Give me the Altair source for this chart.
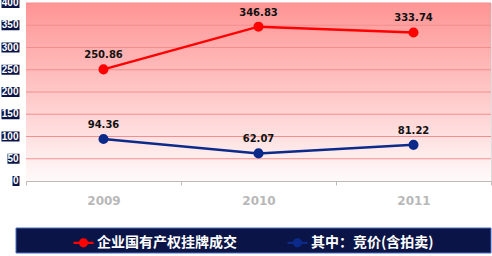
import altair as alt
import pandas as pd

years = ["2009", "2010", "2011"]
series_names = ["企业国有产权挂牌成交", "其中：竞价(含拍卖)"]
listed = [250.86, 346.83, 333.74]
auction = [94.36, 62.07, 81.22]
y_ticks = [0, 50, 100, 150, 200, 250, 300, 350, 400]

RED = "#ff0000"
BLUE = "#0b2a8a"
NAVY = "#0a1446"

rows = []
for name, vals in zip(series_names, [listed, auction]):
    for yr, v in zip(years, vals):
        rows.append({"year": yr, "series": name, "value": v, "label": f"{v:.2f}"})
df = pd.DataFrame(rows)
tick_df = pd.DataFrame({"v": y_ticks, "t": [str(v) for v in y_ticks]})

yscale = alt.Scale(domain=[0, 400], nice=False, zero=True)
xenc = alt.X(
    "year:N",
    scale=alt.Scale(type="band", paddingInner=0, paddingOuter=0, domain=years),
    axis=alt.Axis(
        title=None, tickBand="extent", labelAngle=0, labelFont="DejaVu Sans",
        labelFontWeight="bold", labelFontSize=12, labelColor="#b8b8b8",
        labelPadding=10, tickColor="#c0b8b8", tickSize=4, domainColor="#c0b8b8",
        grid=False,
    ),
)
color_scale = alt.Scale(domain=series_names, range=[RED, BLUE])
legend = alt.Legend(
    title=None, orient="none", legendX=46, legendY=228, direction="horizontal",
    symbolType="M-1,0H1M0.35,0A0.35,0.35,0,1,1,-0.35,0A0.35,0.35,0,1,1,0.35,0",
    symbolSize=400, symbolStrokeWidth=2.2, labelFont="Noto Sans CJK SC",
    labelFontSize=14, labelFontWeight="bold", labelColor="white",
    labelLimit=300, columnPadding=46, labelOffset=2, padding=0,
)

bg = alt.Chart(tick_df).transform_filter("datum.v == 0").mark_rect(
    color=alt.Gradient(
        gradient="linear", x1=0, x2=0, y1=0, y2=1,
        stops=[alt.GradientStop(color="#ff9494", offset=0),
               alt.GradientStop(color="#fffafa", offset=1)],
    )
).encode(x=alt.value(0), x2=alt.value(465), y=alt.value(0), y2=alt.value(178))

legend_bg = alt.Chart(tick_df).transform_filter("datum.v == 0").mark_rect(
    fill=NAVY, stroke="#4a6cc4", strokeWidth=1
).encode(x=alt.value(-10), x2=alt.value(465), y=alt.value(225), y2=alt.value(250))

grid = alt.Chart(tick_df).transform_filter("datum.v > 0").mark_rule(
    color="#f28e8e", strokeWidth=1
).encode(y=alt.Y("v:Q", scale=yscale, axis=None))

box_layers = []
for cond, w in [("datum.v >= 100", 18), ("datum.v >= 10 && datum.v < 100", 12), ("datum.v < 10", 7)]:
    box_layers.append(
        alt.Chart(tick_df).transform_filter(cond).mark_tick(
            orient="horizontal", thickness=10, size=w, color=NAVY, opacity=1
        ).encode(y=alt.Y("v:Q", scale=yscale, axis=None), x=alt.value(-6.5 - w / 2))
    )
ylab = alt.Chart(tick_df).mark_text(
    align="right", baseline="middle", font="Liberation Sans", fontWeight="bold",
    fontSize=10, color="white"
).encode(y=alt.Y("v:Q", scale=yscale, axis=None), x=alt.value(-7.5), text="t:N")

base = alt.Chart(df)
lines = base.mark_line(strokeWidth=2.5).encode(
    x=xenc,
    y=alt.Y("value:Q", scale=yscale, axis=alt.Axis(labels=False, ticks=False, grid=False,
                                                 domain=True, domainColor="#c8c0c0", title=None)),
    stroke=alt.Stroke("series:N", scale=color_scale, legend=legend),
)
points = base.mark_point(filled=True, size=65, opacity=1).encode(
    x=xenc,
    y=alt.Y("value:Q", scale=yscale),
    fill=alt.Fill("series:N", scale=color_scale, legend=legend),
    stroke=alt.Stroke("series:N", scale=color_scale, legend=legend),
)
labels = base.mark_text(
    dy=-14, font="DejaVu Sans", fontWeight="bold", fontSize=10, color="#111111"
).encode(x=xenc, y=alt.Y("value:Q", scale=yscale), text="label:N")

chart = alt.layer(bg, grid, legend_bg, *box_layers, ylab, lines, points, labels).properties(
    width=465, height=178,
    autosize=alt.AutoSizeParams(type="none"),
    padding={"left": 26, "top": 3, "right": 1, "bottom": 75},
).configure_view(stroke=None).configure(background="white")

chart.save("out.html", embed_options={"renderer": "svg", "actions": False})
